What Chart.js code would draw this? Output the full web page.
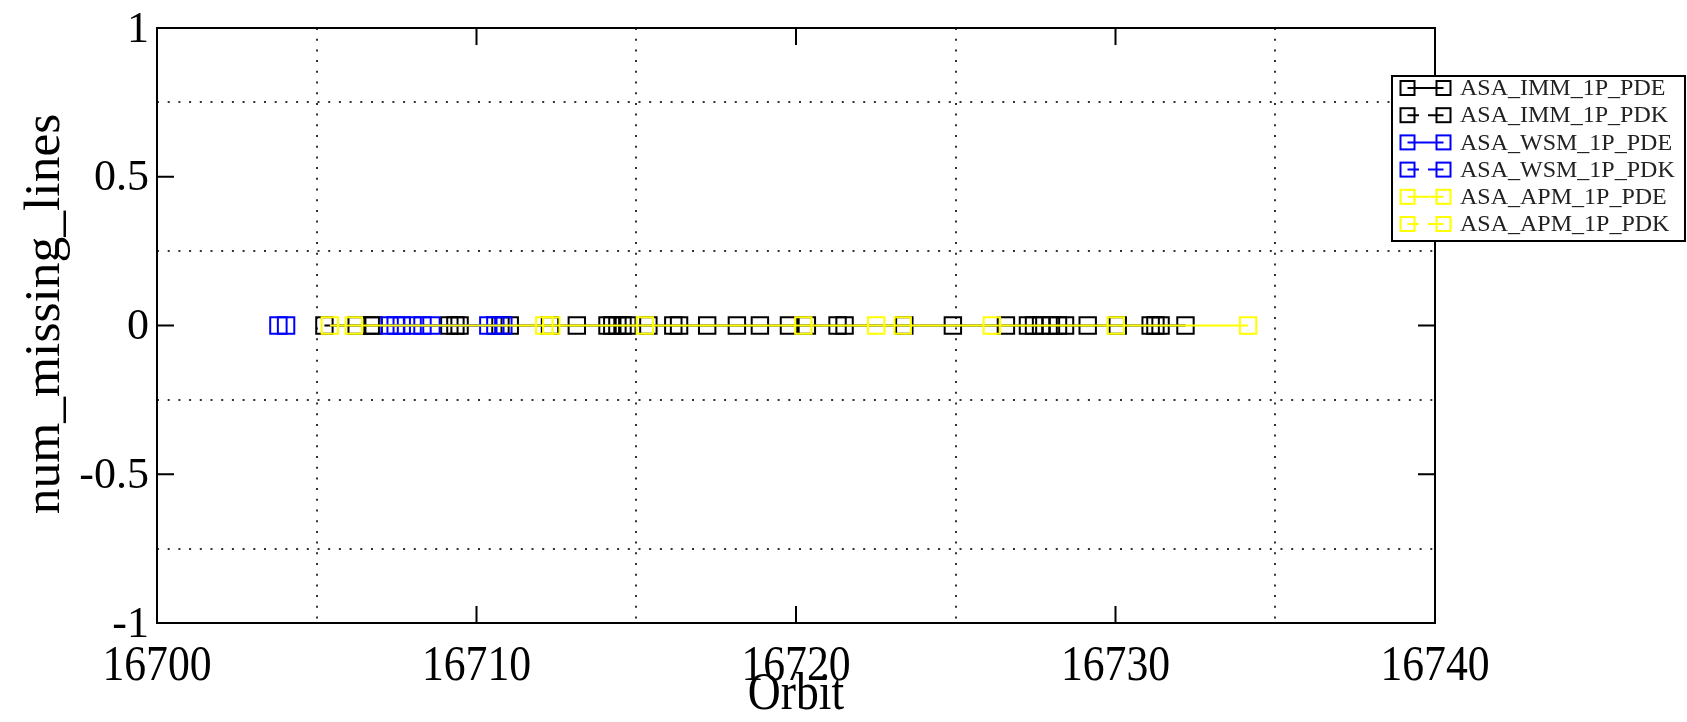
<!DOCTYPE html>
<html>
<head>
<meta charset="utf-8">
<script src="https://cdn.jsdelivr.net/npm/chart.js@4.4.1/dist/chart.umd.min.js"></script>
<style>
  html, body { margin: 0; padding: 0; background: #fff; }
  #wrap { width: 1687px; height: 722px; position: relative; }
</style>
</head>
<body>
<div id="wrap"><canvas id="c" width="1687" height="722"></canvas></div>
<script>
// Orbit numbers and num_missing_lines for each product stream
const immPdeOrbit = [16705.24, 16706.69, 16709.15, 16711.04, 16713.14, 16714.10, 16714.41, 16714.72, 16716.16, 16717.22, 16718.87, 16720.34, 16721.52, 16724.91, 16727.26, 16727.67, 16728.20, 16729.13, 16731.10, 16731.41, 16732.19];
const immPdeMissing = [0, 0, 0, 0, 0, 0, 0, 0, 0, 0, 0, 0, 0, 0, 0, 0, 0, 0, 0, 0, 0];

const immPdkOrbit = [16706.25, 16706.78, 16709.34, 16709.47, 16710.75, 16712.30, 16714.25, 16714.57, 16715.38, 16716.34, 16718.15, 16719.78, 16721.30, 16723.39, 16726.57, 16727.45, 16727.98, 16728.42, 16730.07, 16731.25];
const immPdkMissing = [0, 0, 0, 0, 0, 0, 0, 0, 0, 0, 0, 0, 0, 0, 0, 0, 0, 0, 0, 0];

const wsmPdeOrbit = [16707.28, 16707.47, 16707.66, 16708.00, 16708.31, 16708.59, 16710.37, 16710.59, 16710.84];
const wsmPdeMissing = [0, 0, 0, 0, 0, 0, 0, 0, 0];

const wsmPdkOrbit = [16703.80, 16704.04];
const wsmPdkMissing = [0, 0];

const apmPdeOrbit = [16705.41, 16706.16, 16712.12, 16715.27, 16720.23, 16722.51, 16726.13, 16730.01, 16734.15];
const apmPdeMissing = [0, 0, 0, 0, 0, 0, 0, 0, 0];

const apmPdkOrbit = [16712.34, 16723.34];
const apmPdkMissing = [0, 0];

const seriesNames = ['ASA_IMM_1P_PDE', 'ASA_IMM_1P_PDK', 'ASA_WSM_1P_PDE', 'ASA_WSM_1P_PDK', 'ASA_APM_1P_PDE', 'ASA_APM_1P_PDK'];

// Axis ticks
const xTickLabels = [16700, 16710, 16720, 16730, 16740];
const xGridValues = [16705, 16715, 16725, 16735];
const yTickLabels = [-1, -0.5, 0, 0.5, 1];
const yGridValues = [-0.75, -0.25, 0.25, 0.75];

const BLACK = '#000000', BLUE = '#0000ff', YELLOW = '#ffff00';
const SERIF = '"Liberation Serif", "DejaVu Serif", serif';

function pts(xs, ys) { return xs.map((x, i) => ({ x: x, y: ys[i] })); }

function makeSet(label, xs, ys, color, solid, order) {
  return {
    label: label,
    data: pts(xs, ys),
    showLine: solid,
    borderColor: color,
    borderWidth: 2,
    backgroundColor: 'transparent',
    pointStyle: 'rect',
    pointRadius: 11.6,
    pointBorderWidth: 2,
    pointBorderColor: color,
    pointBackgroundColor: 'transparent',
    order: order
  };
}

const datasets = [
  makeSet(seriesNames[0], immPdeOrbit, immPdeMissing, BLACK, true, 5),
  makeSet(seriesNames[1], immPdkOrbit, immPdkMissing, BLACK, false, 4),
  makeSet(seriesNames[2], wsmPdeOrbit, wsmPdeMissing, BLUE, true, 3),
  makeSet(seriesNames[3], wsmPdkOrbit, wsmPdkMissing, BLUE, false, 2),
  makeSet(seriesNames[4], apmPdeOrbit, apmPdeMissing, YELLOW, true, 1),
  makeSet(seriesNames[5], apmPdkOrbit, apmPdkMissing, YELLOW, false, 0)
];
const legendColors = [BLACK, BLACK, BLUE, BLUE, YELLOW, YELLOW];
const legendSolid = [true, false, true, false, true, false];

function fmtY(v) { return String(v); }

// Dotted grid underneath the data
const gridPlugin = {
  id: 'dottedGrid',
  beforeDatasetsDraw(chart) {
    const { ctx, chartArea: a, scales: { x, y } } = chart;
    ctx.save();
    ctx.strokeStyle = '#333';
    ctx.lineWidth = 2;
    ctx.setLineDash([2, 8.7]);
    xGridValues.forEach(v => {
      const px = Math.round(x.getPixelForValue(v));
      ctx.beginPath(); ctx.moveTo(px, a.top); ctx.lineTo(px, a.bottom); ctx.stroke();
    });
    yGridValues.forEach(v => {
      const py = Math.round(y.getPixelForValue(v));
      ctx.beginPath(); ctx.moveTo(a.left, py); ctx.lineTo(a.right, py); ctx.stroke();
    });
    ctx.restore();
  }
};

// Frame, inward ticks, tick labels and axis titles
const framePlugin = {
  id: 'frame',
  afterDatasetsDraw(chart) {
    const { ctx, chartArea: a, scales: { x, y } } = chart;
    ctx.save();
    ctx.setLineDash([]);
    ctx.strokeStyle = '#000';
    ctx.lineWidth = 2;
    ctx.strokeRect(a.left, a.top, a.right - a.left, a.bottom - a.top);
    const tl = 17;
    ctx.beginPath();
    xTickLabels.forEach(v => {
      const px = x.getPixelForValue(v);
      ctx.moveTo(px, a.bottom); ctx.lineTo(px, a.bottom - tl);
      ctx.moveTo(px, a.top); ctx.lineTo(px, a.top + tl);
    });
    yTickLabels.forEach(v => {
      const py = y.getPixelForValue(v);
      ctx.moveTo(a.left, py); ctx.lineTo(a.left + tl, py);
      ctx.moveTo(a.right, py); ctx.lineTo(a.right - tl, py);
    });
    ctx.stroke();

    ctx.fillStyle = '#000';
    ctx.font = '46px ' + SERIF;
    ctx.textAlign = 'center';
    ctx.textBaseline = 'alphabetic';
    xTickLabels.forEach(v => {
      ctx.save();
      ctx.translate(x.getPixelForValue(v), 680);
      ctx.scale(0.95, 1.12);
      ctx.fillText(String(v), 0, 0);
      ctx.restore();
    });
    ctx.font = '44px ' + SERIF;
    ctx.textAlign = 'right';
    ctx.textBaseline = 'middle';
    yTickLabels.forEach(v => {
      ctx.fillText(fmtY(v), a.left - 8, y.getPixelForValue(v) + 2);
    });

    ctx.font = '48px ' + SERIF;
    ctx.textAlign = 'center';
    ctx.textBaseline = 'middle';
    ctx.save();
    ctx.translate(x.getPixelForValue(16720), 695);
    ctx.scale(0.95, 1.1);
    ctx.fillText('Orbit', 0, 0);
    ctx.restore();

    ctx.save();
    ctx.translate(46, 314);
    ctx.rotate(-Math.PI / 2);
    ctx.font = '50px ' + SERIF;
    ctx.scale(1.03, 1);
    ctx.fillText('num_missing_lines', 0, 0);
    ctx.restore();
    ctx.restore();
  }
};

// Legend box: symbol-line-symbol for each product stream
const legendPlugin = {
  id: 'boxLegend',
  afterDraw(chart) {
    const ctx = chart.ctx;
    const bx = 1392, by = 76, bw = 293, bh = 165;
    ctx.save();
    ctx.fillStyle = '#fff';
    ctx.fillRect(bx, by, bw, bh);
    ctx.strokeStyle = '#000';
    ctx.lineWidth = 2;
    ctx.setLineDash([]);
    ctx.strokeRect(bx, by, bw, bh);
    const s = 14, c1 = 1407.5, c2 = 1443.5;
    chart.data.datasets.forEach((ds, i) => {
      const ry = 88 + i * 27.2;
      const col = legendColors[i];
      ctx.strokeStyle = col;
      ctx.lineWidth = 2;
      ctx.beginPath();
      if (legendSolid[i]) {
        ctx.moveTo(c1, ry); ctx.lineTo(c2, ry);
      } else {
        ctx.moveTo(c1, ry); ctx.lineTo(1419, ry);
        ctx.moveTo(1428, ry); ctx.lineTo(c2, ry);
      }
      ctx.stroke();
      ctx.strokeRect(c1 - s / 2, ry - s / 2, s, s);
      ctx.strokeRect(c2 - s / 2, ry - s / 2, s, s);
      ctx.fillStyle = '#222';
      ctx.font = '24px ' + SERIF;
      ctx.textAlign = 'left';
      ctx.textBaseline = 'middle';
      ctx.fillText(ds.label, 1460, ry + 1);
    });
    ctx.restore();
  }
};

new Chart(document.getElementById('c').getContext('2d'), {
  type: 'scatter',
  data: { datasets: datasets },
  options: {
    responsive: false,
    animation: false,
    layout: { padding: { left: 149, right: 252, top: 28, bottom: 91 } },
    plugins: { legend: { display: false }, tooltip: { enabled: false } },
    scales: {
      x: {
        type: 'linear', min: 16700, max: 16740,
        ticks: { display: false },
        grid: { display: false },
        border: { display: false }
      },
      y: {
        type: 'linear', min: -1, max: 1,
        ticks: { display: false },
        grid: { display: false },
        border: { display: false }
      }
    }
  },
  plugins: [gridPlugin, framePlugin, legendPlugin]
});
</script>
</body>
</html>
